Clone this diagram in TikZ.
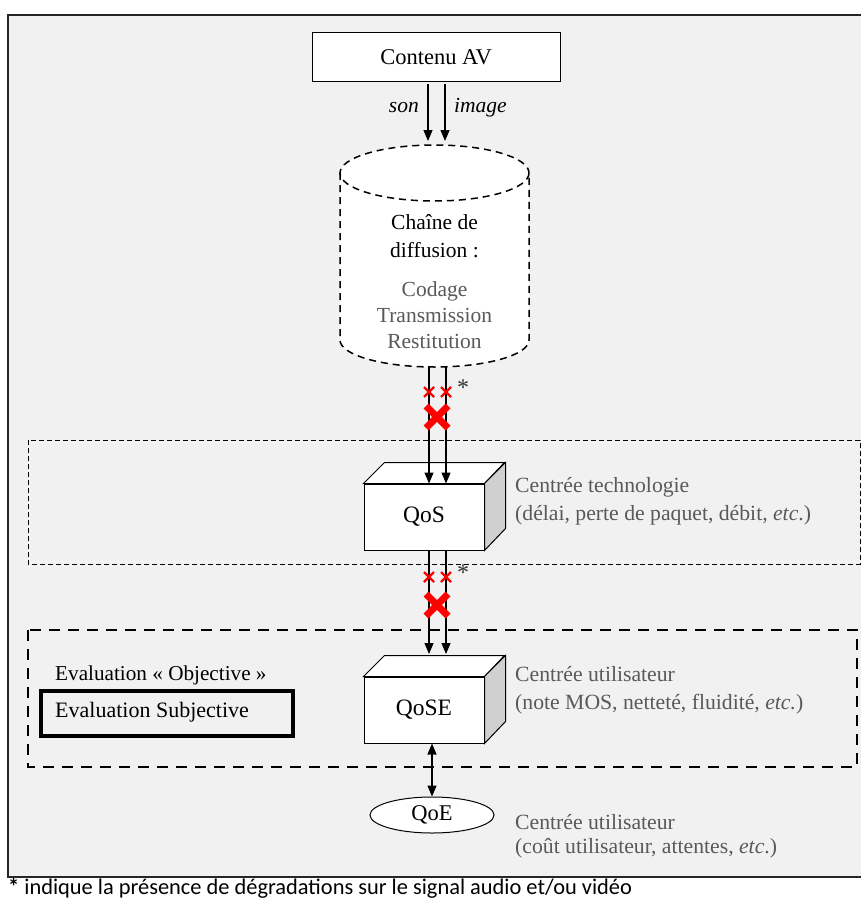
\documentclass[tikz,border=0pt]{standalone}
\usepackage{fontspec}
\setmainfont{Liberation Serif}
\newfontfamily\calib{Carlito}
\usetikzlibrary{arrows.meta,shapes.geometric}
\definecolor{bg}{HTML}{F1F1F1}
\definecolor{txtgray}{HTML}{595959}
\definecolor{sidegray}{HTML}{D0D0D0}
\begin{document}
\begin{tikzpicture}[x=1pt,y=-1pt,
  every node/.style={font=\fontsize{21.5}{24}\selectfont, inner sep=0pt},
  arr/.style={line width=1.2pt,-{Triangle[length=11pt,width=9pt]}},
  darr/.style={line width=1.2pt,{Triangle[length=11pt,width=9pt]}-{Triangle[length=11pt,width=9pt]}},
  plainbox/.style={draw,line width=1pt,fill=white},
  front/.style={draw,line width=1pt,fill=white,minimum width=120pt,minimum height=66pt,font=\fontsize{23.5}{26}\selectfont},
  graytxt/.style={text=txtgray,align=left,anchor=west,font=\fontsize{21.7}{28}\selectfont},
  smallx/.style={red,line width=2.2pt},
  bigx/.style={red,line width=7pt},
  ast/.style={font=\fontsize{24}{24}\selectfont,text=black!80},
]
\useasboundingbox (0,0) rectangle (861,899);
% outer frame
\fill[bg] (8,15) rectangle (861,877);
\draw[line width=1.5pt,black!85] (861,15) -- (8,15) -- (8,877) -- (861,877);

% dashed zones
\draw[line width=1pt,dash pattern=on 5pt off 3pt] (28,440) rectangle (860,564);
\draw[line width=2.6pt,dash pattern=on 11pt off 8pt] (28,630) rectangle (857,767);

% Contenu AV
\node[plainbox,minimum width=248pt,minimum height=48pt,font=\fontsize{22.5}{24}\selectfont] (av) at (436,57) {Contenu AV};

% cylinder
\fill[white] (340,173) -- (340,340) arc[start angle=180,end angle=360,x radius=94.5,y radius=-27] -- (529,173) arc[start angle=0,end angle=180,x radius=94.5,y radius=-28] -- cycle;
\draw[line width=1.5pt,dash pattern=on 7pt off 5pt] (434.5,173) ellipse[x radius=94.5,y radius=28];
\draw[line width=1.5pt,dash pattern=on 7pt off 5pt] (340,173) -- (340,340) arc[start angle=180,end angle=360,x radius=94.5,y radius=-27] -- (529,173);
\node[minimum width=189pt,minimum height=222pt] (cyl) at (434.5,256) {};
\node[align=center] (cyltitle) at (434.5,236) {Chaîne de\\[4pt]diffusion :};
\node[align=center,text=txtgray,font=\fontsize{21.5}{26}\selectfont] (cyltxt) at (434.5,315) {Codage\\Transmission\\Restitution};

% son / image arrows
\coordinate (a1s) at (428,84); \coordinate (a1e) at (428,141);
\coordinate (a2s) at (445,84); \coordinate (a2e) at (445,141);
\draw[arr] (a1s) -- (a1e);
\draw[arr] (a2s) -- (a2e);
\node[anchor=east,font=\itshape\fontsize{21.5}{24}\selectfont] (son) at (419,108) {son};
\node[anchor=west,font=\itshape\fontsize{21.5}{24}\selectfont] (img) at (454,108) {image};

% QoS cube
\node[front] (qos) at (424,517) {QoS};
\filldraw[line width=1pt,fill=white] (qos.north west) -- ++(21,-21) -- ++(120,0) -- (qos.north east) -- cycle;
\filldraw[line width=1pt,fill=sidegray] (qos.north east) -- ++(21,-21) -- ++(0,66) -- (qos.south east) -- cycle;
\node[graytxt] (qostxt) at (515,501) {Centrée technologie\\(délai, perte de paquet, débit, \textit{etc}.)};

% arrows cylinder -> QoS
\coordinate (b1s) at (429,366); \coordinate (b2s) at (446,366);
\draw[arr] (b1s) -- ([xshift=5pt]qos.north);
\draw[arr] (b2s) -- ([xshift=22pt]qos.north);
\draw[smallx] (424,387) -- (434,397) (424,397) -- (434,387);
\draw[smallx] (441,387) -- (451,397) (441,397) -- (451,387);
\draw[bigx] (426,406) -- (448,428) (426,428) -- (448,406);
\node[ast] (ast1) at (463,388) {*};

% QoSE cube
\node[front] (qose) at (424,710) {QoSE};
\filldraw[line width=1pt,fill=white] (qose.north west) -- ++(21,-21) -- ++(120,0) -- (qose.north east) -- cycle;
\filldraw[line width=1pt,fill=sidegray] (qose.north east) -- ++(21,-21) -- ++(0,66) -- (qose.south east) -- cycle;
\node[graytxt] (qosetxt) at (515,690) {Centrée utilisateur\\(note MOS, netteté, fluidité, \textit{etc.})};

% arrows QoS -> QoSE
\coordinate (c1s) at (429,550); \coordinate (c1e) at (429,654);
\coordinate (c2s) at (446,550); \coordinate (c2e) at (446,654);
\draw[arr] (c1s) -- (c1e);
\draw[arr] (c2s) -- (c2e);
\draw[smallx] (424,572) -- (434,582) (424,582) -- (434,572);
\draw[smallx] (441,572) -- (451,582) (441,582) -- (451,572);
\draw[bigx] (426,594) -- (448,616) (426,616) -- (448,594);
\node[ast] (ast2) at (463,573) {*};

% evaluation texts
\node[anchor=west,font=\fontsize{21.2}{24}\selectfont] (obj) at (55,675) {Evaluation « Objective »};
\node[draw,line width=3.5pt,minimum width=252pt,minimum height=45pt] (subj) at (167,713.5) {};
\node[anchor=west,font=\fontsize{22}{24}\selectfont] (subjt) at (55,712) {Evaluation Subjective};

% QoE
\node[ellipse,draw,line width=1pt,fill=white,minimum width=124pt,minimum height=36pt,font=\fontsize{22.5}{24}\selectfont] (qoe) at (432,815) {QoE};
\draw[darr] ([xshift=8pt]qose.south) -- (qoe.north);
\node[graytxt,font=\fontsize{21.7}{24}\selectfont] (qoetxt) at (515,836) {Centrée utilisateur\\(coût utilisateur, attentes, \textit{etc}.)};

% footer
\node[anchor=west,font=\calib\fontsize{22.4}{24}\selectfont] (foot) at (8,888) {\textbf{*} indique la présence de dégradations sur le signal audio et/ou vidéo};
\end{tikzpicture}
\end{document}
